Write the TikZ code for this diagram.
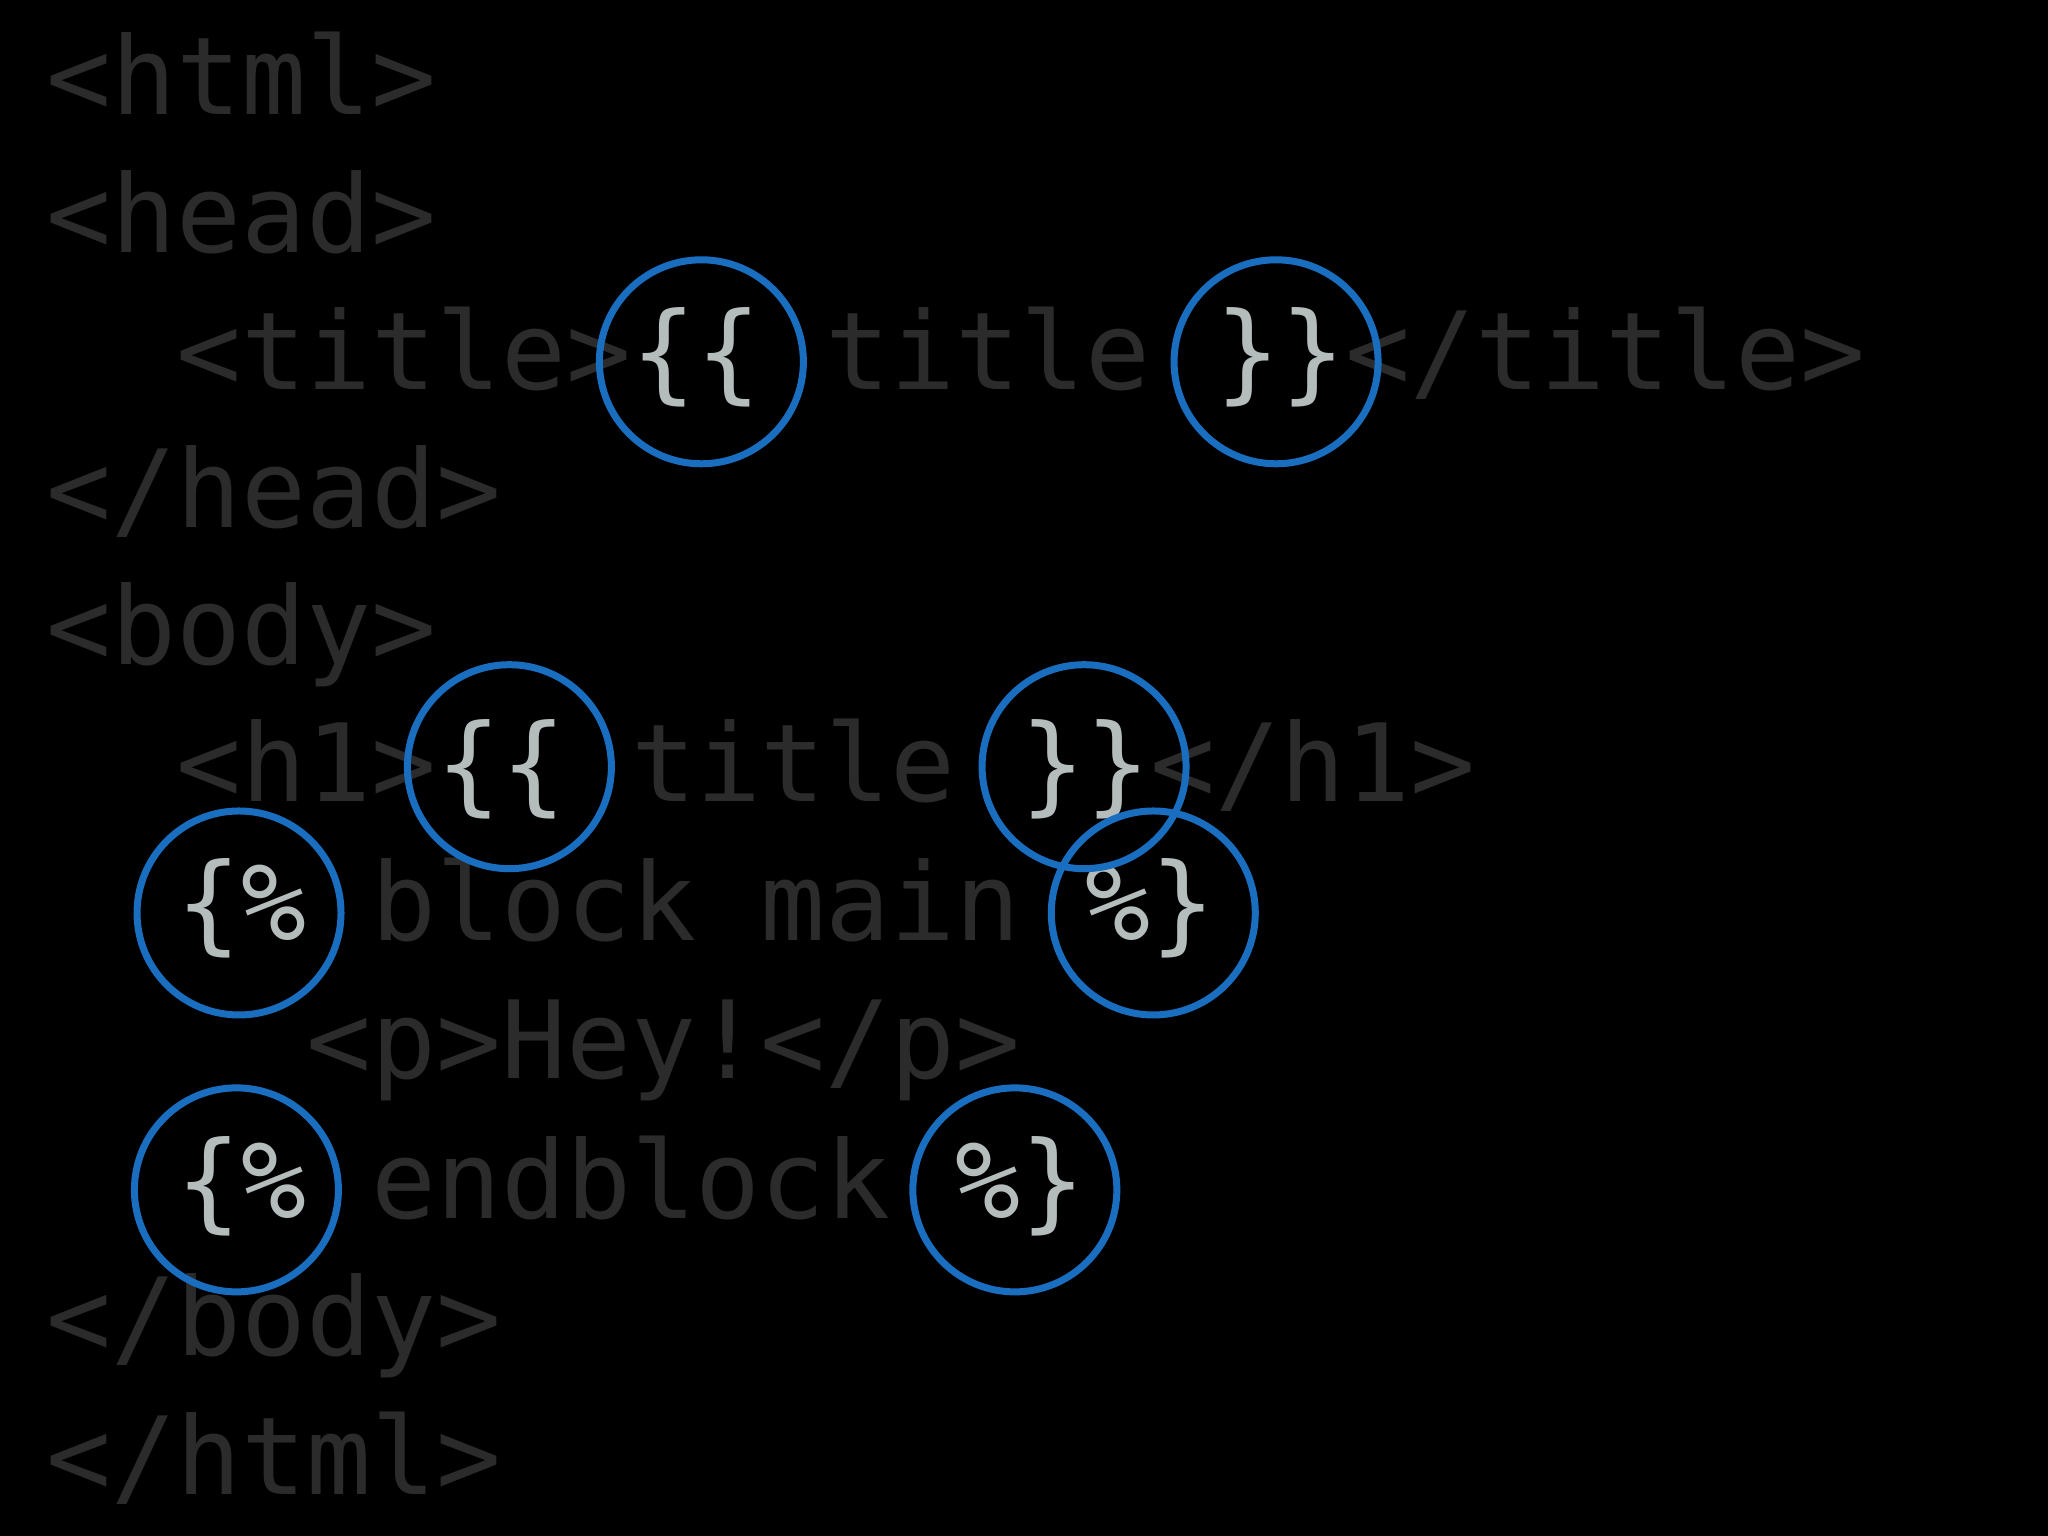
\documentclass[tikz,border=0pt]{standalone}
\usepackage{fontspec}
\setmonofont{DejaVu Sans Mono}
\definecolor{codegray}{HTML}{2B2B2B}
\definecolor{hl}{HTML}{B4BCBC}
\definecolor{ring}{HTML}{1A6EC0}
\newcommand{\hlt}[1]{\textcolor{hl}{#1}}
\begin{document}
\begin{tikzpicture}[x=0.01306cm,y=-0.01306cm,
  code/.style={anchor=base west,inner sep=0pt,text=codegray,font=\ttfamily\fontsize{30.7pt}{36pt}\selectfont},
  ringc/.style={draw=ring,line width=0.07cm,circle,minimum size=2.04cm,inner sep=0pt}]
\fill[black] (0,0) rectangle (1568,1176);
\useasboundingbox (0,0) rectangle (1568,1176);
\node[code] (l1) at (35,88) {<html>};
\node[code] (l2) at (35,193) {<head>};
\node[code] (l3) at (35,298) {\ \ <title>\hlt{\{\{} title \hlt{\}\}}</title>};
\node[code] (l4) at (35,404) {</head>};
\node[code] (l5) at (35,509) {<body>};
\node[code] (l6) at (35,614) {\ \ <h1>\hlt{\{\{} title \hlt{\}\}}</h1>};
\node[code] (l7) at (35,720) {\ \ \hlt{\{\%} block main \hlt{\%\}}};
\node[code] (l8) at (35,826) {\ \ \ \ <p>Hey!</p>};
\node[code] (l9) at (35,933) {\ \ \hlt{\{\%} endblock \hlt{\%\}}};
\node[code] (l10) at (35,1038) {</body>};
\node[code] (l11) at (35,1144) {</html>};
\node[ringc] (c1) at (537,277) {};
\node[ringc] (c2) at (977,277) {};
\node[ringc] (c3) at (390,587) {};
\node[ringc] (c4) at (830,587) {};
\node[ringc] (c5) at (183,699) {};
\node[ringc] (c6) at (883,699) {};
\node[ringc] (c7) at (181,911) {};
\node[ringc] (c8) at (777,911) {};
\end{tikzpicture}
\end{document}
